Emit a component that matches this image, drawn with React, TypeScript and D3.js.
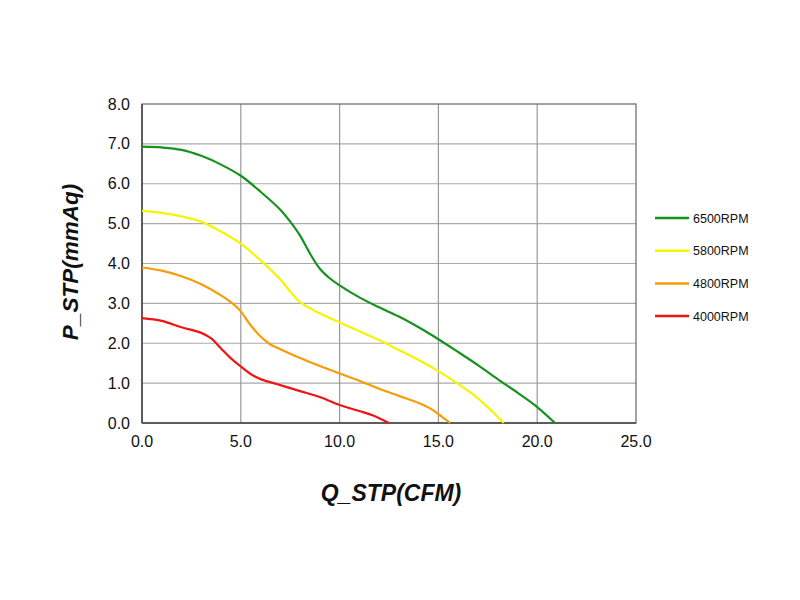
import { useEffect, useRef } from 'react';
import * as d3 from 'd3';

const seriesNames = ['6500RPM', '5800RPM', '4800RPM', '4000RPM'];
const seriesColors = ['#16921e', '#f5f500', '#f99b06', '#ee1515'];

const rpm6500: [number, number][] = [
  [0, 6.93], [1, 6.91], [2, 6.85], [3, 6.7], [4, 6.48], [5, 6.2], [6, 5.8], [7, 5.35],
  [7.5, 5.05], [8, 4.7], [8.5, 4.25], [9, 3.87], [9.5, 3.63], [10, 3.45], [11, 3.15],
  [12, 2.9], [13, 2.67], [14, 2.4], [15, 2.1], [16, 1.78], [17, 1.45], [18, 1.1],
  [19, 0.76], [20, 0.4], [20.9, 0]
];
const rpm5800: [number, number][] = [
  [0, 5.32], [1, 5.27], [2, 5.18], [3, 5.05], [4, 4.8], [5, 4.5], [6, 4.08], [7, 3.6],
  [7.5, 3.3], [8, 3.03], [9, 2.75], [10, 2.52], [11, 2.3], [12, 2.08], [13, 1.83],
  [14, 1.58], [15, 1.3], [16, 0.98], [17, 0.62], [17.7, 0.3], [18.3, 0]
];
const rpm4800: [number, number][] = [
  [0, 3.9], [1, 3.82], [2, 3.68], [3, 3.48], [4, 3.2], [4.7, 2.95], [5, 2.8], [5.5, 2.45],
  [6, 2.17], [6.5, 1.97], [7, 1.85], [8, 1.63], [9, 1.43], [10, 1.24], [11, 1.06],
  [12, 0.86], [13, 0.68], [14, 0.5], [14.6, 0.36], [15.2, 0.15], [15.6, 0]
];
const rpm4000: [number, number][] = [
  [0, 2.63], [1, 2.56], [2, 2.4], [3, 2.26], [3.5, 2.12],
  [4, 1.87], [4.5, 1.62], [5, 1.42], [5.5, 1.23], [6, 1.1], [7, 0.95], [8, 0.8],
  [9, 0.65], [10, 0.45], [11, 0.3], [11.7, 0.19], [12.5, 0]
];
const seriesData = [rpm6500, rpm5800, rpm4800, rpm4000];

const xTicks = [0, 5, 10, 15, 20, 25];
const yTicks = [0, 1, 2, 3, 4, 5, 6, 7, 8];

export default function App() {
  const ref = useRef<SVGSVGElement>(null);

  useEffect(() => {
    const svg = d3.select(ref.current);
    svg.selectAll('*').remove();

    const left = 142, right = 636, top = 104, bottom = 423;
    const x = d3.scaleLinear().domain([0, 25]).range([left, right]);
    const y = d3.scaleLinear().domain([0, 8]).range([bottom, top]);

    svg.append('rect').attr('width', 800).attr('height', 600).attr('fill', '#fff');

    // grid
    svg.append('g')
      .selectAll('line')
      .data(yTicks.slice(1, -1))
      .join('line')
      .attr('x1', left).attr('x2', right)
      .attr('y1', d => y(d)).attr('y2', d => y(d))
      .attr('stroke', '#aaa').attr('stroke-width', 1.2);
    svg.append('g')
      .selectAll('line')
      .data(xTicks.slice(1, -1))
      .join('line')
      .attr('y1', top).attr('y2', bottom)
      .attr('x1', d => x(d)).attr('x2', d => x(d))
      .attr('stroke', '#999').attr('stroke-width', 1.2);

    // frame
    svg.append('rect')
      .attr('x', left).attr('y', top)
      .attr('width', right - left).attr('height', bottom - top)
      .attr('fill', 'none').attr('stroke', '#666').attr('stroke-width', 1.2);
    svg.append('line').attr('x1', left).attr('x2', left).attr('y1', top).attr('y2', bottom)
      .attr('stroke', '#444').attr('stroke-width', 1.5);
    svg.append('line').attr('x1', left).attr('x2', right).attr('y1', bottom).attr('y2', bottom)
      .attr('stroke', '#444').attr('stroke-width', 1.5);

    // tick labels
    svg.append('g')
      .selectAll('text')
      .data(yTicks)
      .join('text')
      .attr('x', 130).attr('y', d => y(d) + 5.5)
      .attr('text-anchor', 'end')
      .attr('font-family', 'Liberation Sans, Arial, sans-serif')
      .attr('font-size', 16)
      .attr('fill', '#111')
      .text(d => d.toFixed(1));
    svg.append('g')
      .selectAll('text')
      .data(xTicks)
      .join('text')
      .attr('x', d => x(d)).attr('y', 447)
      .attr('text-anchor', 'middle')
      .attr('font-family', 'Liberation Sans, Arial, sans-serif')
      .attr('font-size', 16)
      .attr('fill', '#111')
      .text(d => d.toFixed(1));

    // curves
    const line = d3.line<[number, number]>()
      .x(d => x(d[0]))
      .y(d => y(d[1]))
      .curve(d3.curveCatmullRom.alpha(0.5));
    svg.append('g')
      .selectAll('path')
      .data(seriesData)
      .join('path')
      .attr('d', d => line(d))
      .attr('fill', 'none')
      .attr('stroke', (_, i) => seriesColors[i])
      .attr('stroke-width', 2.2)
      .attr('stroke-linejoin', 'round');

    // legend
    const legend = svg.append('g')
      .selectAll('g')
      .data(seriesNames)
      .join('g')
      .attr('transform', (_, i) => `translate(655, ${218 + i * 32.7})`);
    legend.append('line')
      .attr('x1', 0).attr('x2', 34)
      .attr('stroke', (_, i) => seriesColors[i])
      .attr('stroke-width', 2.5);
    legend.append('text')
      .attr('x', 38).attr('y', 4.5)
      .attr('font-family', 'Liberation Sans, Arial, sans-serif')
      .attr('font-size', 12.5)
      .attr('fill', '#111')
      .text(d => d);

    // axis titles
    svg.append('text')
      .attr('x', 391).attr('y', 501)
      .attr('text-anchor', 'middle')
      .attr('font-family', 'Liberation Sans, Arial, sans-serif')
      .attr('font-size', 23)
      .attr('font-weight', 'bold')
      .attr('font-style', 'italic')
      .attr('fill', '#111')
      .text('Q_STP(CFM)');
    svg.append('text')
      .attr('transform', 'translate(78, 262) rotate(-90)')
      .attr('text-anchor', 'middle')
      .attr('font-family', 'Liberation Sans, Arial, sans-serif')
      .attr('font-size', 22.5)
      .attr('font-weight', 'bold')
      .attr('font-style', 'italic')
      .attr('fill', '#111')
      .text('P_STP(mmAq)');
  }, []);

  return (
    <svg
      ref={ref}
      width={800}
      height={600}
      style={{ position: 'absolute', left: 0, top: 0 }}
    />
  );
}
